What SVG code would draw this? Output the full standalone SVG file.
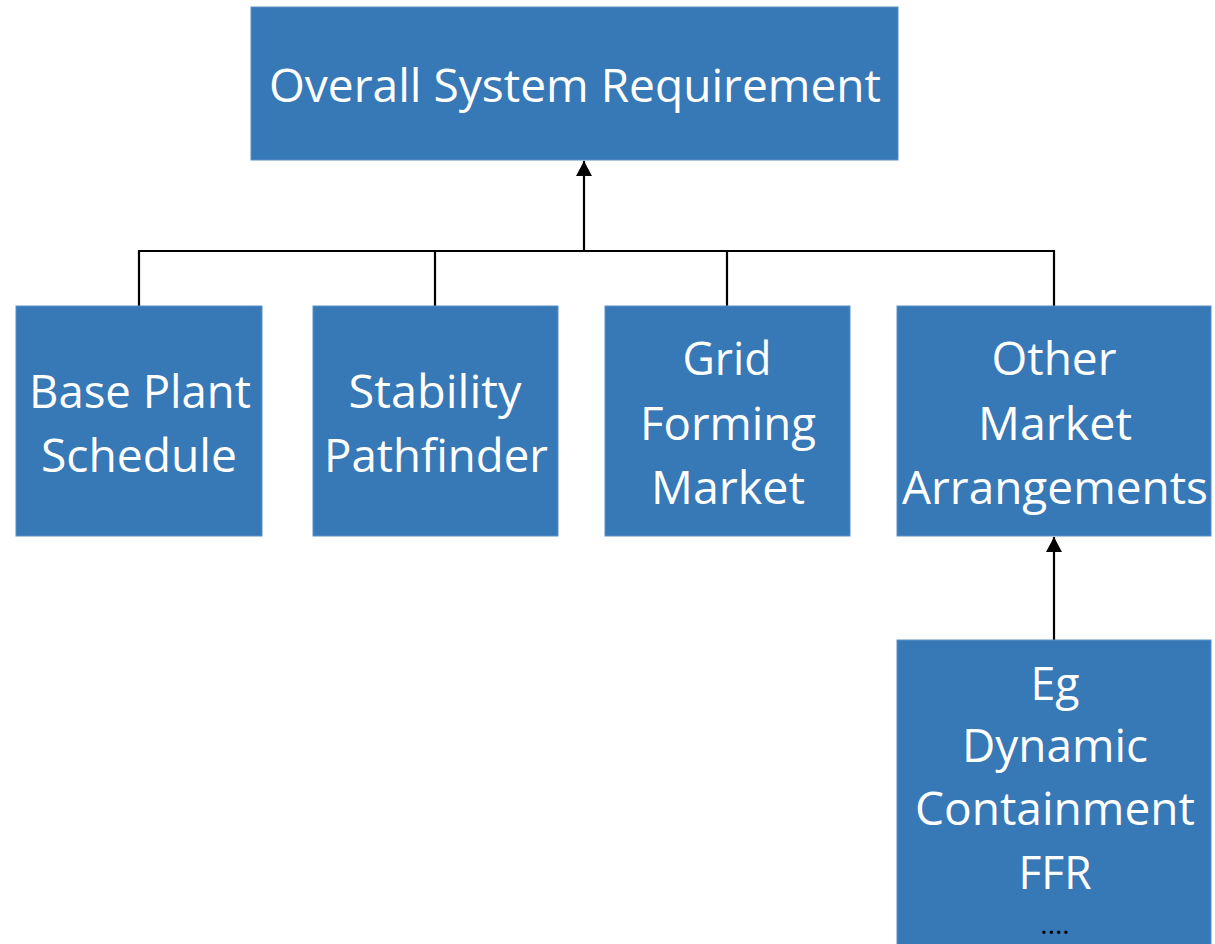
<svg xmlns="http://www.w3.org/2000/svg" width="1215" height="944" viewBox="0 0 1215 944">
<style>
.box{fill:#3778B7;stroke:#5A8FC6;stroke-width:1}
.t{font-family:"Open Sans","Liberation Sans",sans-serif;font-size:46px;fill:#ffffff;text-anchor:middle}
.c{stroke:#000;stroke-width:2.2;fill:none}
</style>
<defs>
<marker id="ah" markerWidth="16" markerHeight="16" refX="15" refY="8" orient="auto" markerUnits="userSpaceOnUse">
<path d="M0,0 L15,8 L0,16 Z" fill="#000"/>
</marker>
</defs>
<rect width="1215" height="944" fill="#fff"/>
<g id="connectors">
<path class="c" d="M139,306 V251 H1054 V306"/>
<path class="c" d="M435,251 V306"/>
<path class="c" d="M727,251 V306"/>
<path class="c" d="M584,251 V161" marker-end="url(#ah)"/>
<path class="c" d="M1054,640 V537" marker-end="url(#ah)"/>
</g>
<g id="overall">
<rect class="box" x="251" y="7" width="647" height="153"/>
<text class="t" x="575" y="102" textLength="612" lengthAdjust="spacingAndGlyphs">Overall System Requirement</text>
</g>
<g id="base-plant">
<rect class="box" x="16" y="306" width="246" height="230"/>
<text class="t" x="140" y="408" textLength="222" lengthAdjust="spacingAndGlyphs">Base Plant</text>
<text class="t" x="139" y="472" textLength="196" lengthAdjust="spacingAndGlyphs">Schedule</text>
</g>
<g id="stability">
<rect class="box" x="313" y="306" width="245" height="230"/>
<text class="t" x="435" y="408" textLength="173" lengthAdjust="spacingAndGlyphs">Stability</text>
<text class="t" x="436" y="472" textLength="224" lengthAdjust="spacingAndGlyphs">Pathfinder</text>
</g>
<g id="grid-forming">
<rect class="box" x="605" y="306" width="245" height="230"/>
<text class="t" x="727" y="375" textLength="89" lengthAdjust="spacingAndGlyphs">Grid</text>
<text class="t" x="728" y="440" textLength="176" lengthAdjust="spacingAndGlyphs">Forming</text>
<text class="t" x="728" y="504" textLength="154" lengthAdjust="spacingAndGlyphs">Market</text>
</g>
<g id="other-market">
<rect class="box" x="897" y="306" width="314" height="230"/>
<text class="t" x="1054" y="375" textLength="125" lengthAdjust="spacingAndGlyphs">Other</text>
<text class="t" x="1055" y="440" textLength="154" lengthAdjust="spacingAndGlyphs">Market</text>
<text class="t" x="1055" y="504" textLength="306" lengthAdjust="spacingAndGlyphs">Arrangements</text>
</g>
<g id="examples">
<rect class="box" x="897" y="640" width="314" height="310"/>
<text class="t" x="1055" y="700" textLength="49" lengthAdjust="spacingAndGlyphs">Eg</text>
<text class="t" x="1055" y="762" textLength="186" lengthAdjust="spacingAndGlyphs">Dynamic</text>
<text class="t" x="1055" y="825" textLength="280" lengthAdjust="spacingAndGlyphs">Containment</text>
<text class="t" x="1055" y="889" textLength="73" lengthAdjust="spacingAndGlyphs">FFR</text>
<text x="1055" y="934" font-family="'Open Sans','Liberation Sans',sans-serif" font-size="28" fill="#000" text-anchor="middle">....</text>
</g>
</svg>
